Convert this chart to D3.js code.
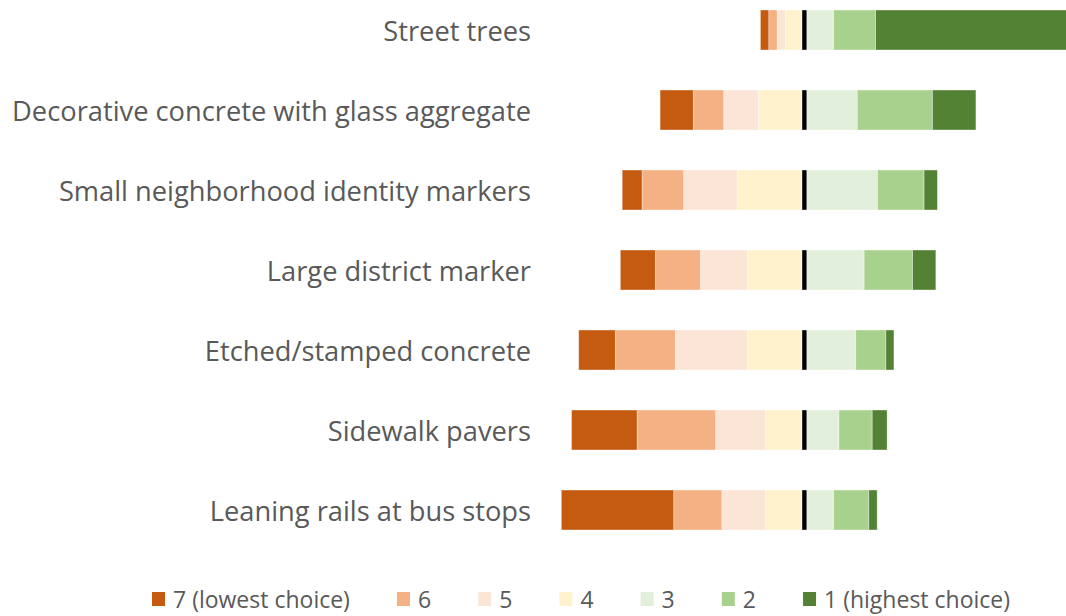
<!DOCTYPE html>
<html>
<head>
<meta charset="utf-8">
<script src="https://cdn.jsdelivr.net/npm/d3@7"></script>
<style>
  body { margin: 0; background: #fff; }
  text { font-family: "Open Sans", Lato, sans-serif; fill: #595959; }
</style>
</head>
<body>
<div id="chart"></div>
<script>
// categories, top to bottom
var categories = ["Street trees", "Decorative concrete with glass aggregate",
  "Small neighborhood identity markers", "Large district marker",
  "Etched/stamped concrete", "Sidewalk pavers", "Leaning rails at bus stops"]

// percent of responses for each rank (7 = lowest, 1 = highest)
var rank7 = [2.7, 10.7, 6.4, 11.3, 11.8, 21.1, 36.2]
var rank6 = [2.7, 9.8, 13.4, 14.5, 19.3, 25.3, 15.5]
var rank5 = [2.6, 11.2, 17.2, 15.0, 23.2, 16.1, 14.1]
var rank4 = [5.4, 14.0, 20.9, 17.7, 17.6, 11.7, 11.7]
var rank3 = [8.6, 16.2, 22.7, 18.4, 15.7, 10.3, 8.6]
var rank2 = [13.5, 24.2, 15.0, 15.6, 9.7, 10.7, 11.3]
var rank1 = [64.5, 14.0, 4.3, 7.5, 2.6, 4.8, 2.7]
// black midline series
var midline = [1.6, 1.6, 1.6, 1.6, 1.6, 1.6, 1.6]

var legendLabels = ["7 (lowest choice)", "6", "5", "4", "3", "2", "1 (highest choice)"]
var colors = ["#C55A11", "#F4B183", "#FBE5D6", "#FFF2CC", "#E2EFDA", "#A9D18E", "#548235"]

var width = 1066, height = 616

var svg = d3.select("#chart").append("svg")
    .attr("width", width)
    .attr("height", height)

var xScale = d3.scaleLinear().domain([-85, 85]).range([538, 1066])
var yScale = d3.scaleBand().domain(categories).range([-10, 550])
    .paddingInner(0.5).paddingOuter(0.25)

// build segments: left side goes out from 0 (4,5,6,7), right side after the midline (3,2,1)
var segments = []
categories.forEach(function(cat, i) {
  var left = [rank4[i], rank5[i], rank6[i], rank7[i]]
  var leftColors = [colors[3], colors[2], colors[1], colors[0]]
  var pos = 0
  for (var k = 0; k < left.length; k++) {
    segments.push({cat: cat, x0: pos - left[k], x1: pos, color: leftColors[k]})
    pos -= left[k]
  }
  segments.push({cat: cat, x0: 0, x1: midline[i], color: "#000"})
  var right = [rank3[i], rank2[i], rank1[i]]
  var rightColors = [colors[4], colors[5], colors[6]]
  pos = midline[i]
  for (var k = 0; k < right.length; k++) {
    segments.push({cat: cat, x0: pos, x1: pos + right[k], color: rightColors[k]})
    pos += right[k]
  }
})

svg.append("g").selectAll("rect")
  .data(segments)
  .enter().append("rect")
    .attr("x", function(d) { return xScale(d.x0) })
    .attr("y", function(d) { return yScale(d.cat) })
    .attr("width", function(d) { return xScale(d.x1) - xScale(d.x0) })
    .attr("height", yScale.bandwidth())
    .attr("fill", function(d) { return d.color })
    .attr("stroke", "#fff")
    .attr("stroke-opacity", 0.5)
    .attr("stroke-width", 0.75)

// category labels, sized so the longest one fits the label column like the original
var labels = svg.append("g").selectAll("text")
  .data(categories)
  .enter().append("text")
    .attr("x", 531)
    .attr("y", function(d) { return yScale(d) + yScale.bandwidth() / 2 })
    .attr("text-anchor", "end")
    .attr("dominant-baseline", "central")
    .style("font-size", "24px")
    .text(function(d) { return d })
var longest = d3.max(labels.nodes(), function(n) { return n.getComputedTextLength() })
labels.style("font-size", (24 * 519 / longest) + "px")

// legend: spread items between the same left and right ends as the original
var legend = svg.append("g").attr("transform", "translate(0, 599)")
var legendTexts = legendLabels.map(function(lab) {
  return legend.append("text")
    .attr("dominant-baseline", "central")
    .style("font-size", "23px")
    .text(lab)
})
var textWidths = legendTexts.map(function(t) { return t.node().getComputedTextLength() })
var legendLeft = 152, legendRight = 1010, swatchW = 13, swatchGap = 8
var gap = (legendRight - legendLeft - d3.sum(textWidths) - legendLabels.length * (swatchW + swatchGap)) / (legendLabels.length - 1)
var lx = legendLeft
legendLabels.forEach(function(lab, i) {
  legend.append("rect").attr("x", lx).attr("y", -7).attr("width", swatchW).attr("height", 14)
    .attr("fill", colors[i])
  legendTexts[i].attr("x", lx + swatchW + swatchGap).attr("y", 0)
  lx += swatchW + swatchGap + textWidths[i] + gap
})
</script>
</body>
</html>
